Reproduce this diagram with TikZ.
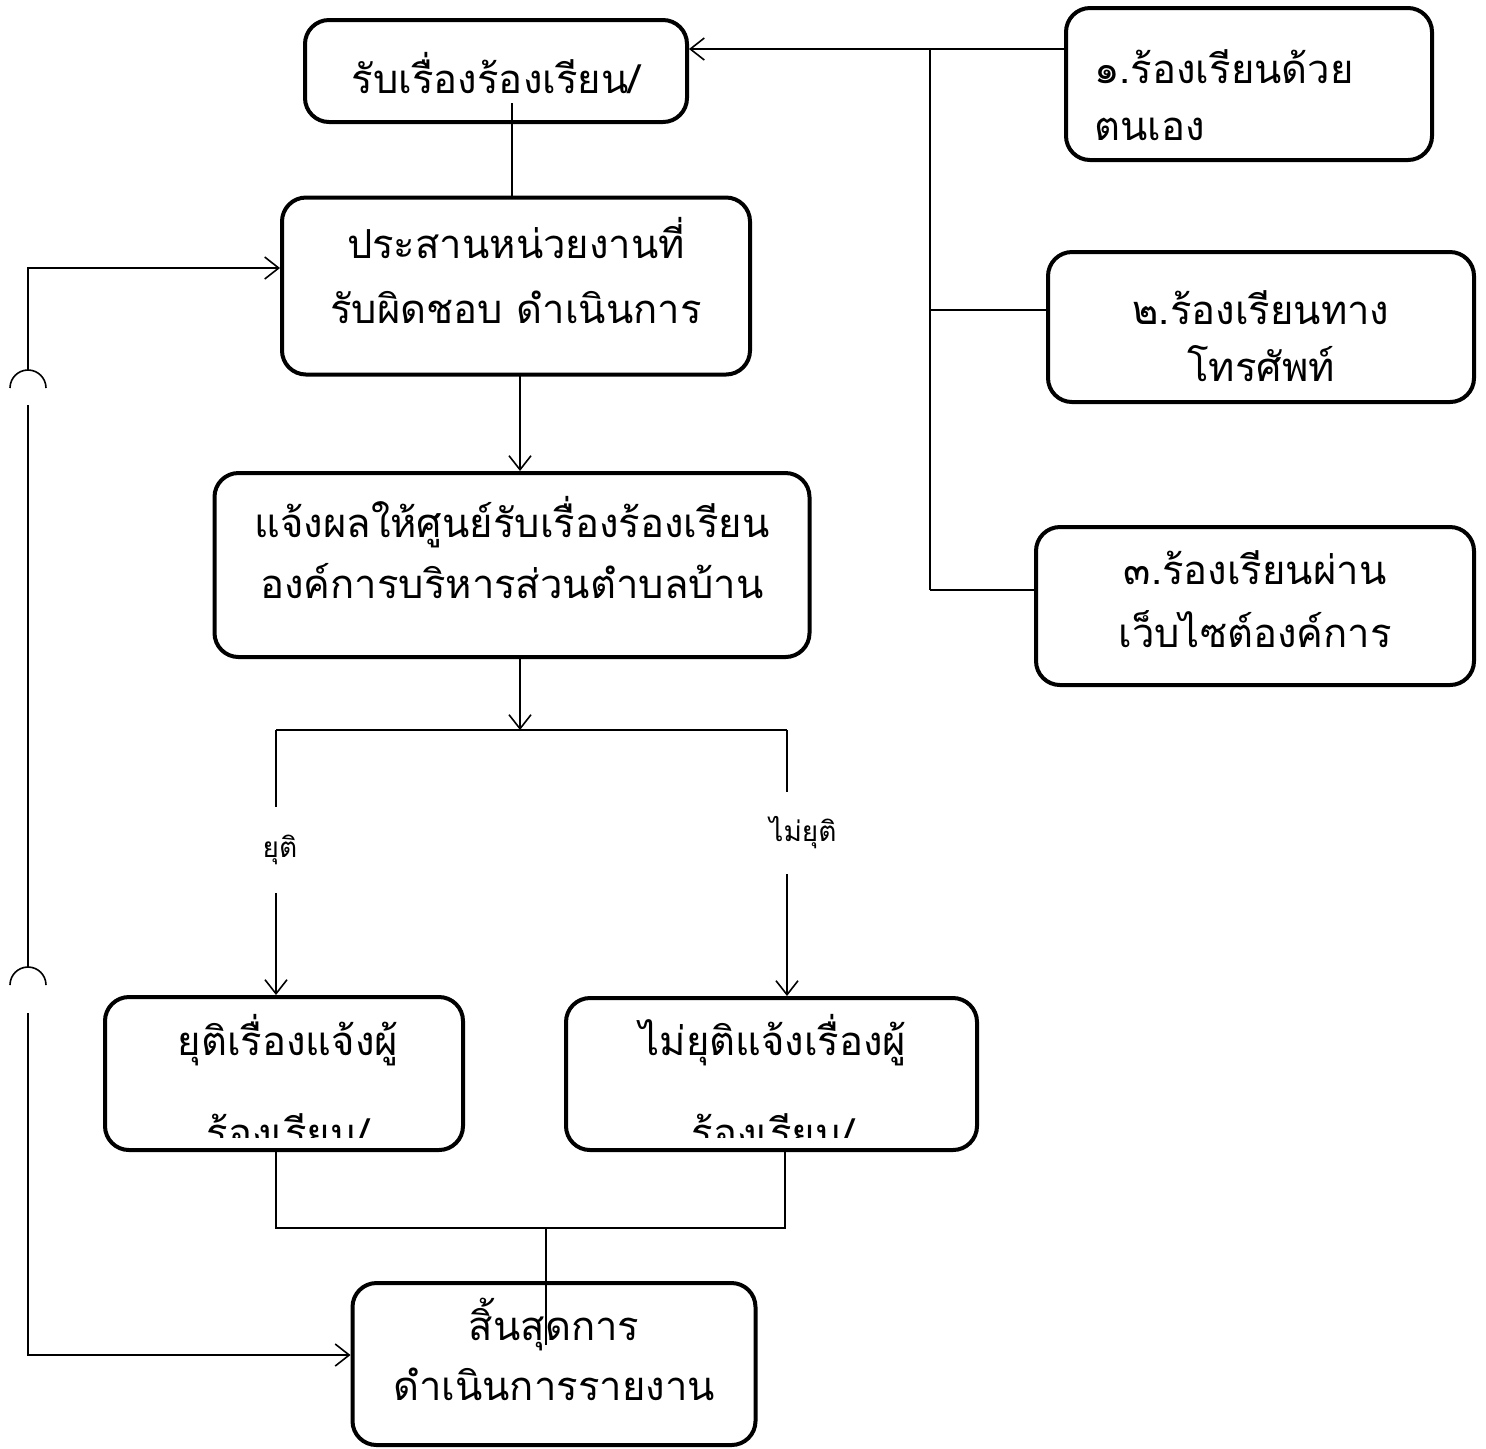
\documentclass[tikz,border=0pt]{standalone}
\usepackage{fontspec}
\newfontfamily\thaifont[Script=Thai]{Loma}
\usetikzlibrary{arrows.meta}
\begin{document}
\begin{tikzpicture}[x=0.5pt,y=-0.5pt,
  box/.style={draw, line width=2pt, rounded corners=12pt, inner sep=2pt},
  conn/.style={line width=0.8pt},
  arr/.style={conn, -{Straight Barb[length=7pt,width=11pt,line width=0.8pt]}},
  txt/.style={font=\thaifont\fontsize{20}{33}\selectfont, align=center, text depth=0pt},
  lbl/.style={font=\thaifont\fontsize{14}{16}\selectfont, inner sep=0pt}]
\useasboundingbox (0,0) rectangle (1486,1448);
\fill[white] (0,0) rectangle (1486,1448);

% main column
\node[box, txt, text height=22pt, minimum width=191pt, minimum height=51pt] (A) at (496,71) {รับเรื่องร้องเรียน/};
\node[box, txt, font=\thaifont\fontsize{20}{32.5}\selectfont, text height=37pt, minimum width=234pt, minimum height=88.5pt] (B) at (516,286) {ประสานหน่วยงานที่\\รับผิดชอบ ดำเนินการ};
\node[box, txt, font=\thaifont\fontsize{20}{30.5}\selectfont, text height=33pt, minimum width=297.5pt, minimum height=92pt] (C) at (512,565) {แจ้งผลให้ศูนย์รับเรื่องร้องเรียน\\องค์การบริหารส่วนตำบลบ้าน};
\node[box, txt, font=\thaifont\fontsize{20}{30}\selectfont, text height=36pt, minimum width=201.5pt, minimum height=81pt] (F) at (554,1364) {สิ้นสุดการ\\ดำเนินการรายงาน};

% bottom boxes (second text line cut off by the box)
\node[box, minimum width=179pt, minimum height=76.5pt] (D) at (284,1073.5) {};
\node[box, minimum width=205.5pt, minimum height=76pt] (E) at (771.5,1074) {};
\begin{scope}
  \clip (90,980) rectangle (1000,1137);
  \node[txt, font=\thaifont\fontsize{20}{46}\selectfont, text height=73.5pt, inner sep=0pt] (Dt) at (288,1073.5) {ยุติเรื่องแจ้งผู้\\ร้องเรียน/};
  \node[txt, font=\thaifont\fontsize{20}{46}\selectfont, text height=73.5pt, inner sep=0pt] (Et) at (773,1073.5) {ไม่ยุติแจ้งเรื่องผู้\\ร้องเรียน/};
\end{scope}

% right column
\node[box, txt, align=left, font=\thaifont\fontsize{20}{28.5}\selectfont, text height=56pt, minimum width=183pt, minimum height=76pt] (R1) at (1249,84) {๑.ร้องเรียนด้วย\rule{25pt}{0pt}\\ตนเอง};
\node[box, txt, font=\thaifont\fontsize{20}{28.5}\selectfont, text height=54pt, minimum width=213pt, minimum height=75pt] (R2) at (1261,327) {๒.ร้องเรียนทาง\\โทรศัพท์};
\node[box, txt, font=\thaifont\fontsize{20}{31.5}\selectfont, text height=41pt, minimum width=219pt, minimum height=79pt] (R3) at (1255,606) {๓.ร้องเรียนผ่าน\\เว็บไซต์องค์การ};

% right collector
\coordinate (jt) at (930,49);
\coordinate (jm) at (930,310);
\coordinate (jb) at (930,590);
\draw[arr] (R1.west |- jt) -- (jt -| A.east);
\draw[conn] (jt) -- (jb);
\draw[conn] (R2.west |- jm) -- (jm);
\draw[conn] (R3.west |- jb) -- (jb);

% main flow
\coordinate (a1) at (512,103);
\draw[conn] (a1) -- (a1 |- B.north);
\coordinate (b1) at (520,375);
\draw[arr] (b1) -- (b1 |- C.north);
\coordinate (c1) at (520,657);
\coordinate (sp) at (520,730);
\draw[arr] (c1) -- (sp);
\coordinate (sl) at (276,730);
\coordinate (sr) at (787,730);
\draw[conn] (sl) -- (sr);
\node[lbl, minimum height=42.5pt] (yl) at (280,850) {ยุติ};
\node[lbl, minimum height=41pt] (nl) at (803,833) {ไม่ยุติ};
\draw[conn] (sl) -- (sl |- yl.north);
\draw[arr] (sl |- yl.south) -- (sl |- D.north);
\draw[conn] (sr) -- (sr |- nl.north);
\draw[arr] (sr |- nl.south) -- (sr |- E.north);

% merge
\coordinate (ml) at (276,1228);
\coordinate (mr) at (785,1228);
\coordinate (mm) at (546,1228);
\draw[conn] (ml |- D.south) -- (ml) -- (mr) -- (mr |- E.south);
\coordinate (fe) at (546,1345);
\draw[conn] (mm) -- (fe);

% left feedback loop with line hops
\coordinate (lt) at (28,268);
\coordinate (lb) at (28,1355);
\draw[arr] (28,370) -- (lt) -- (lt -| B.west);
\draw[conn] (10,388) arc[start angle=180, end angle=0, radius=9pt];
\draw[conn] (28,405) -- (28,968);
\draw[conn] (10,985) arc[start angle=180, end angle=0, radius=9pt];
\draw[arr] (28,1013) -- (lb) -- (lb -| F.west);
\end{tikzpicture}
\end{document}
